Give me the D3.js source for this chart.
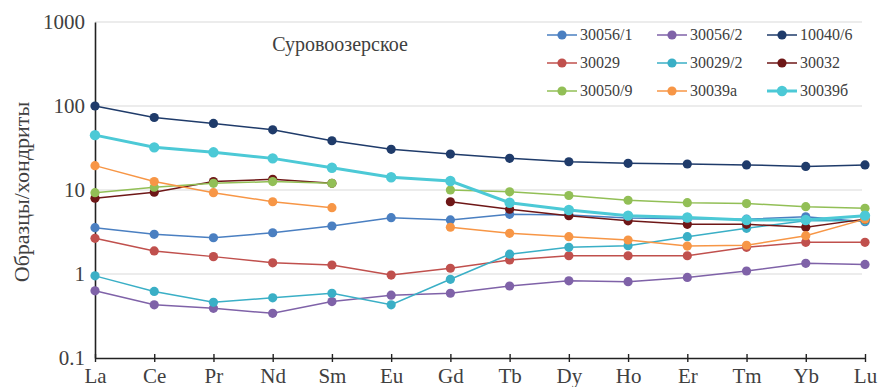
<!DOCTYPE html>
<html><head><meta charset="utf-8">
<script src="https://cdn.jsdelivr.net/npm/d3@7"></script>
</head><body style="margin:0"><svg id="c" width="880" height="387"></svg>
<script>
const elements = ["La","Ce","Pr","Nd","Sm","Eu","Gd","Tb","Dy","Ho","Er","Tm","Yb","Lu"];
const yTicks = [0.1, 1, 10, 100, 1000];
const seriesNames = ["30056/1","30056/2","10040/6","30029","30029/2","30032","30050/9","30039a","30039б"];
const s30056_1 = [3.56,2.97,2.7,3.1,3.73,4.68,4.4,5.13,5.04,4.65,4.55,4.5,4.8,4.2];
const s30056_2 = [0.63,0.43,0.39,0.34,0.47,0.56,0.59,0.72,0.83,0.81,0.91,1.085,1.34,1.30];
const s10040_6 = [100,73,62,52,38.6,30.5,26.8,23.8,21.7,20.8,20.4,19.9,19.1,19.9];
const s30029 = [2.66,1.88,1.61,1.36,1.28,0.97,1.17,1.47,1.65,1.65,1.65,2.08,2.38,2.38];
const s30029_2 = [0.95,0.62,0.46,0.52,0.59,0.43,0.865,1.72,2.08,2.17,2.78,3.5,4.3,4.3];
const s30032 = [8.0,9.4,12.6,13.4,12.0,null,7.25,5.9,4.95,4.3,3.9,3.9,3.6,4.5];
const s30050_9 = [9.3,10.8,12.0,12.6,12.0,null,10.0,9.5,8.6,7.55,7.06,6.9,6.33,6.06];
const s30039a = [19.5,12.6,9.3,7.25,6.16,null,3.6,3.05,2.78,2.54,2.15,2.2,2.86,4.5];
const s30039b = [45,32.2,28.1,23.8,18.4,14.2,12.8,7.06,5.78,4.95,4.7,4.4,4.4,4.95];
const seriesValues = [s30056_1,s30056_2,s10040_6,s30029,s30029_2,s30032,s30050_9,s30039a,s30039b];
const colors = ["#4a7fc1","#7f62a8","#1f3b6a","#c0504d","#3aafc6","#6e1717","#92bf56","#f79646","#4cc9d6"];
const widths = [1.5,1.5,1.5,1.5,1.5,1.5,1.5,1.5,3];
const radii = [4.6,4.6,4.6,4.6,4.6,4.6,4.6,4.6,5.2];
const FONT = "'Liberation Serif'";

const svg = d3.select("#c");
const x = d3.scalePoint().domain(elements).range([95,865]);
const y = d3.scaleLog().domain([0.1,1000]).range([358,22]);

svg.append("g").selectAll("line").data(yTicks.slice(1)).join("line")
  .attr("x1",95).attr("x2",862).attr("y1",d=>y(d)).attr("y2",d=>y(d))
  .attr("stroke","#d9d9d9").attr("stroke-width",1.2);

const ya = svg.append("g").attr("transform","translate(95,0)")
  .call(d3.axisLeft(y).tickValues(yTicks).tickFormat(d=>String(d)).tickSize(0).tickPadding(10));
ya.attr("font-family",FONT).attr("font-size",21);
ya.select(".domain").attr("stroke","#222").attr("stroke-width",1.6);
ya.selectAll("text").attr("font-family",FONT).attr("font-size",21).attr("fill","#404040");

const xa = svg.append("g").attr("transform","translate(0,358)")
  .call(d3.axisBottom(x).tickSizeInner(4).tickSizeOuter(0).tickPadding(6));
xa.attr("font-family",FONT).attr("font-size",21);
xa.select(".domain").attr("stroke","#222").attr("stroke-width",1.6);
xa.selectAll(".tick line").attr("stroke","#222").attr("stroke-width",1.4).attr("y1",-4).attr("y2",4);
xa.selectAll("text").attr("font-family",FONT).attr("font-size",21).attr("fill","#404040");

const line = d3.line().defined(d=>d.v!=null).x(d=>x(d.e)).y(d=>y(d.v));
seriesValues.forEach((vals,i)=>{
  const pts = vals.map((v,j)=>({e:elements[j],v}));
  const g = svg.append("g");
  g.append("path").datum(pts).attr("d",line).attr("fill","none")
    .attr("stroke",colors[i]).attr("stroke-width",widths[i]);
  g.selectAll("circle").data(pts.filter(d=>d.v!=null)).join("circle")
    .attr("cx",d=>x(d.e)).attr("cy",d=>y(d.v)).attr("r",radii[i]).attr("fill",colors[i]);
});

svg.append("text").attr("x",340).attr("y",51).attr("text-anchor","middle")
  .attr("font-family",FONT).attr("font-size",20).attr("fill","#404040").text("Суровоозерское");

svg.append("text").attr("transform","translate(29,192) rotate(-90)").attr("text-anchor","middle")
  .attr("font-family",FONT).attr("font-size",22).attr("fill","#404040").text("Образцы/хондриты");

const lx = [547,657,767], ly = [35,63,91];
const leg = svg.append("g");
seriesNames.forEach((n,i)=>{
  const cx = lx[i%3], cy = ly[Math.floor(i/3)];
  leg.append("line").attr("x1",cx).attr("x2",cx+30).attr("y1",cy).attr("y2",cy)
    .attr("stroke",colors[i]).attr("stroke-width",widths[i]);
  leg.append("circle").attr("cx",cx+15).attr("cy",cy).attr("r",radii[i]).attr("fill",colors[i]);
  leg.append("text").attr("x",cx+33).attr("y",cy+5).attr("font-family",FONT)
    .attr("font-size",16).attr("fill","#404040").text(n);
});
</script></body></html>
